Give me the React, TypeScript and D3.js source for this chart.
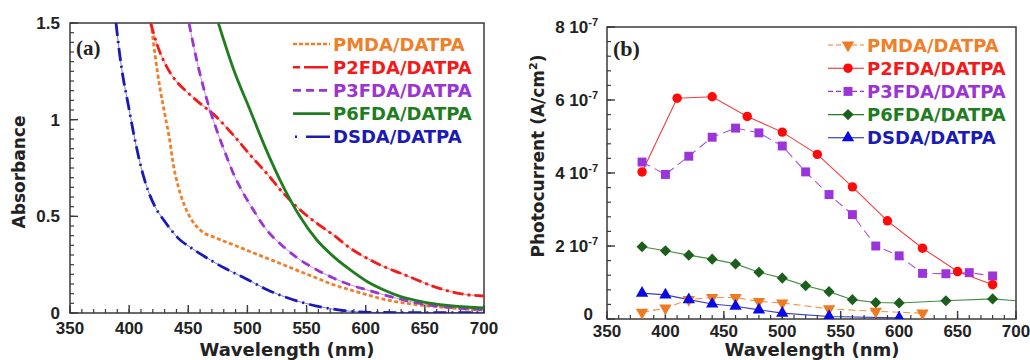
import React, { useRef, useEffect } from "react";
import * as d3 from "d3";

// (a) absorbance spectra, wavelength in nm
const pmdaWl = [418.5, 421.9, 426.1, 430.3, 434.5, 437, 441.6, 447.2, 452, 459.9, 474, 488, 502.2, 516.2, 530.3, 544.4, 558.5, 572.6, 586.7, 600.8, 614.9, 629, 643, 657.1, 671.2, 700];
const pmdaAbs = [1.5, 1.335, 1.162, 1.024, 0.886, 0.78, 0.653, 0.55, 0.49, 0.43, 0.387, 0.353, 0.318, 0.284, 0.25, 0.215, 0.181, 0.146, 0.12, 0.095, 0.072, 0.055, 0.043, 0.034, 0.026, 0.015];
const p2fdaWl = [418.2, 423.3, 431.7, 440.2, 448.6, 459.9, 471, 488, 502.2, 516.2, 530.3, 544.4, 558.5, 572.6, 586.7, 600.8, 614.9, 629, 643, 657.1, 671.2, 685.3, 700];
const p2fdaAbs = [1.5, 1.394, 1.274, 1.196, 1.145, 1.084, 1.03, 0.921, 0.818, 0.723, 0.62, 0.534, 0.465, 0.404, 0.336, 0.284, 0.241, 0.207, 0.172, 0.138, 0.112, 0.095, 0.088];
const p3fdaWl = [450.6, 457.1, 462.7, 468.3, 474, 482.4, 488, 496.5, 504.9, 516.2, 530.3, 544.4, 558.5, 572.6, 586.7, 600.8, 614.9, 629, 643, 657.1, 671.2, 700];
const p3fdaAbs = [1.5, 1.308, 1.17, 1.05, 0.947, 0.809, 0.723, 0.62, 0.534, 0.43, 0.344, 0.275, 0.224, 0.181, 0.146, 0.12, 0.095, 0.072, 0.052, 0.038, 0.029, 0.017];
const p6fdaWl = [475.4, 488, 502.2, 516.2, 530.3, 544.4, 558.5, 572.6, 586.7, 600.8, 614.9, 629, 643, 657.1, 671.2, 685.3, 700];
const p6fdaAbs = [1.5, 1.265, 1.05, 0.84, 0.654, 0.499, 0.379, 0.293, 0.224, 0.164, 0.12, 0.086, 0.064, 0.048, 0.038, 0.031, 0.026];
const dsdaWl = [388.9, 391.7, 395, 399.3, 403.5, 408.3, 412, 416.2, 421.9, 430.3, 441.6, 452.9, 464.1, 481, 497.9, 516.2, 530.3, 544.4, 558.5, 572.6, 586.7, 603.6, 650, 700];
const dsdaAbs = [1.5, 1.352, 1.214, 1.076, 0.938, 0.8, 0.71, 0.63, 0.55, 0.472, 0.386, 0.335, 0.291, 0.231, 0.18, 0.122, 0.086, 0.058, 0.036, 0.02, 0.009, 0.003, 0.002, 0.002];

// (b) photocurrent, in units of 1e-7 A/cm2
const pmdaPcWl = [380, 400, 420, 440, 460, 480, 500, 540, 580, 620];
const pmdaPc = [0.18, 0.3, 0.53, 0.59, 0.59, 0.48, 0.44, 0.28, 0.21, 0.16];
const p2fdaPcWl = [380, 410, 440, 470, 500, 530, 560, 590, 620, 650, 680];
const p2fdaPc = [4.03, 6.05, 6.09, 5.55, 5.12, 4.51, 3.62, 2.69, 1.94, 1.3, 0.94];
const p3fdaPcWl = [380, 400, 420, 440, 460, 480, 500, 520, 540, 560, 580, 600, 620, 640, 660, 680];
const p3fdaPc = [4.3, 3.96, 4.46, 4.98, 5.23, 5.1, 4.74, 4.03, 3.41, 2.86, 2.0, 1.73, 1.25, 1.24, 1.27, 1.18];
const p6fdaPcWl = [380, 400, 420, 440, 460, 480, 500, 520, 540, 560, 580, 600, 640, 680, 720];
const p6fdaPc = [1.98, 1.87, 1.75, 1.64, 1.51, 1.28, 1.12, 0.91, 0.75, 0.53, 0.45, 0.44, 0.5, 0.55, 0.45];
const dsdaPcWl = [380, 400, 420, 440, 460, 480, 500, 540, 600];
const dsdaPc = [0.71, 0.66, 0.53, 0.41, 0.35, 0.25, 0.16, 0.07, 0.03];

const seriesNames = ["PMDA/DATPA", "P2FDA/DATPA", "P3FDA/DATPA", "P6FDA/DATPA", "DSDA/DATPA"];
const seriesColors = ["#f07f2a", "#f21a1a", "#9b34d2", "#1f7d1f", "#1a1ab4"];
const markerColors = ["#f07a22", "#ff0a0a", "#9b34d9", "#1c5e1c", "#0a0ae6"];
const wlTicks = [350, 400, 450, 500, 550, 600, 650, 700];
const absTicks = [0, 0.5, 1, 1.5];
const absTickLabels = ["0", "0.5", "1", "1.5"];
const pcTicks = [0, 2, 4, 6, 8];
const pcTickLabels = ["0", "2 10", "4 10", "6 10", "8 10"];

const TICK_FONT = "'Liberation Sans', Arial, sans-serif";
const LABEL_FONT = "'DejaVu Sans', sans-serif";

function App() {
  const svgRef = useRef(null);

  useEffect(() => {
    const svg = d3.select(svgRef.current);
    svg.selectAll("*").remove();

    const frame = "#3a3a3a";

    function axes(g, x, y, xMinor, yMinor, xLabY) {
      const [x0, x1] = x.range();
      const [y0, y1] = y.range();
      // minor ticks, pointing inward
      yMinor.forEach(v => {
        g.append("line").attr("x1", x0).attr("x2", x0 + 4)
          .attr("y1", y(v)).attr("y2", y(v)).attr("stroke", frame).attr("stroke-width", 1.2);
      });
      xMinor.forEach(v => {
        g.append("line").attr("x1", x(v)).attr("x2", x(v))
          .attr("y1", y0).attr("y2", y0 - 4).attr("stroke", frame).attr("stroke-width", 1.2);
      });
      wlTicks.forEach(v => {
        g.append("line").attr("x1", x(v)).attr("x2", x(v))
          .attr("y1", y0).attr("y2", y0 - 8).attr("stroke", frame).attr("stroke-width", 1.4);
        g.append("text").attr("x", x(v)).attr("y", xLabY)
          .attr("text-anchor", "middle").attr("font-family", TICK_FONT)
          .attr("font-weight", "bold").attr("font-size", 17).attr("fill", "#222").text(v);
      });
      g.append("rect").attr("x", x0).attr("y", y1).attr("width", x1 - x0).attr("height", y0 - y1)
        .attr("fill", "none").attr("stroke", frame).attr("stroke-width", 1.5);
    }

    // ---------- panel (a)
    const xa = d3.scaleLinear().domain([350, 700]).range([70, 484]);
    const ya = d3.scaleLinear().domain([0, 1.5]).range([313, 23]);
    const ga = svg.append("g");
    ga.append("clipPath").attr("id", "clipA").append("rect")
      .attr("x", 70).attr("y", 23).attr("width", 414).attr("height", 290);

    axes(ga, xa, ya, d3.range(350, 701, 10), d3.range(0, 1.501, 0.05), 334);
    absTicks.forEach((v, i) => {
      ga.append("line").attr("x1", 70).attr("x2", 78).attr("y1", ya(v)).attr("y2", ya(v))
        .attr("stroke", frame).attr("stroke-width", 1.4);
      ga.append("text").attr("x", 60).attr("y", ya(v) + 6).attr("text-anchor", "end")
        .attr("font-family", TICK_FONT).attr("font-weight", "bold").attr("font-size", 17)
        .attr("fill", "#222").text(absTickLabels[i]);
    });

    const absSeries = [
      { wl: pmdaWl, v: pmdaAbs, dash: "4,2.5", thin: false },
      { wl: p2fdaWl, v: p2fdaAbs, dash: "11,4,3,4", thin: true },
      { wl: p3fdaWl, v: p3fdaAbs, dash: "9,6", thin: true },
      { wl: p6fdaWl, v: p6fdaAbs, dash: null, thin: false },
      { wl: dsdaWl, v: dsdaAbs, dash: "13,5,2,5", thin: true },
    ];
    const lineA = d3.line().x(d => xa(d[0])).y(d => ya(d[1])).curve(d3.curveMonotoneX);
    const plotA = ga.append("g").attr("clip-path", "url(#clipA)");
    absSeries.forEach((s, i) => {
      const pts = s.wl.map((w, j) => [w, s.v[j]]);
      if (s.thin) {
        plotA.append("path").attr("d", lineA(pts)).attr("fill", "none")
          .attr("stroke", seriesColors[i]).attr("stroke-width", 0.8).attr("opacity", 0.7);
      }
      plotA.append("path").attr("d", lineA(pts)).attr("fill", "none")
        .attr("stroke", seriesColors[i]).attr("stroke-width", 2.8)
        .attr("stroke-dasharray", s.dash);
    });

    ga.append("text").attr("x", 76).attr("y", 55).attr("font-family", "'Liberation Serif', serif")
      .attr("font-weight", "bold").attr("font-size", 21).attr("fill", "#222").text("(a)");

    seriesNames.forEach((n, i) => {
      const ly = 44 + i * 23.2;
      ga.append("line").attr("x1", i === 4 ? 295 : 293).attr("x2", 330).attr("y1", ly).attr("y2", ly)
        .attr("stroke", seriesColors[i]).attr("stroke-width", 2.6)
        .attr("stroke-dasharray", i === 0 ? "4,2" : i === 1 ? "7,4,24" : i === 2 ? "8,5" : i === 4 ? "2,9,30" : null);
      ga.append("text").attr("x", 333).attr("y", ly + 6.5).attr("font-family", LABEL_FONT)
        .attr("font-weight", "bold").attr("font-size", 18).attr("fill", seriesColors[i]).text(n);
    });

    ga.append("text").attr("x", 287).attr("y", 356).attr("text-anchor", "middle")
      .attr("font-family", LABEL_FONT).attr("font-weight", "bold").attr("font-size", 18)
      .attr("fill", "#222").text("Wavelength (nm)");
    ga.append("text").attr("transform", "translate(25,172) rotate(-90)").attr("text-anchor", "middle")
      .attr("font-family", LABEL_FONT).attr("font-weight", "bold").attr("font-size", 17)
      .attr("fill", "#222").text("Absorbance");

    // ---------- panel (b)
    const xb = d3.scaleLinear().domain([350, 700]).range([607, 1016]);
    const yb = d3.scaleLinear().domain([0, 8]).range([319, 27]);
    const gb = svg.append("g");
    gb.append("clipPath").attr("id", "clipB").append("rect")
      .attr("x", 607).attr("y", 27).attr("width", 409).attr("height", 292);

    axes(gb, xb, yb, d3.range(350, 701, 10), d3.range(0, 8.01, 0.4), 337);
    pcTicks.forEach((v, i) => {
      gb.append("line").attr("x1", 607).attr("x2", 615).attr("y1", yb(v)).attr("y2", yb(v))
        .attr("stroke", frame).attr("stroke-width", 1.4);
      const t = gb.append("text").attr("x", v === 0 ? 593 : 598).attr("y", v === 0 ? yb(v) + 1 : yb(v) + 6)
        .attr("text-anchor", "end")
        .attr("font-family", TICK_FONT).attr("font-weight", "bold").attr("font-size", 17)
        .attr("fill", "#222");
      t.append("tspan").text(pcTickLabels[i]);
      if (v !== 0) t.append("tspan").attr("dy", -7).attr("font-size", 11).text("-7");
    });

    const pcSeries = [
      { wl: pmdaPcWl, v: pmdaPc, dash: "7,4", sym: "tri-down" },
      { wl: p2fdaPcWl, v: p2fdaPc, dash: null, sym: "circle" },
      { wl: p3fdaPcWl, v: p3fdaPc, dash: "9,5", sym: "square" },
      { wl: p6fdaPcWl, v: p6fdaPc, dash: null, sym: "diamond" },
      { wl: dsdaPcWl, v: dsdaPc, dash: null, sym: "tri-up" },
    ];
    const symPath = (sym) => {
      if (sym === "circle") return d3.symbol(d3.symbolCircle, 70)();
      if (sym === "square") return d3.symbol(d3.symbolSquare, 80)();
      if (sym === "diamond") return d3.symbol(d3.symbolSquare, 62)();
      return d3.symbol(d3.symbolTriangle, 66)();
    };
    const symRot = { "tri-down": 180, diamond: 45, circle: 0, square: 0, "tri-up": 0 };

    const lineB = d3.line().x(d => xb(d[0])).y(d => yb(d[1]));
    const plotB = gb.append("g").attr("clip-path", "url(#clipB)");
    pcSeries.forEach((s, i) => {
      const pts = s.wl.map((w, j) => [w, s.v[j]]);
      plotB.append("path").attr("d", lineB(pts)).attr("fill", "none")
        .attr("stroke", seriesColors[i]).attr("stroke-width", 1.1)
        .attr("stroke-dasharray", s.dash).attr("opacity", 0.85);
    });
    // lower series under the upper ones
    [3, 0, 4, 2, 1].forEach(i => {
      const s = pcSeries[i];
      plotB.selectAll(null).data(s.wl.map((w, j) => [w, s.v[j]]))
        .join("path")
        .attr("d", symPath(s.sym))
        .attr("transform", d => `translate(${xb(d[0])},${yb(d[1])}) rotate(${symRot[s.sym]})`)
        .attr("fill", markerColors[i]);
    });

    gb.append("text").attr("x", 613).attr("y", 56).attr("font-family", "'Liberation Serif', serif")
      .attr("font-weight", "bold").attr("font-size", 22).attr("fill", "#222").text("(b)");

    seriesNames.forEach((n, i) => {
      const ly = 45 + i * 23.2;
      gb.append("line").attr("x1", 828).attr("x2", 864).attr("y1", ly).attr("y2", ly)
        .attr("stroke", seriesColors[i]).attr("stroke-width", 1.1)
        .attr("stroke-dasharray", pcSeries[i].dash ? "5,3" : null);
      gb.append("path").attr("d", symPath(pcSeries[i].sym))
        .attr("transform", `translate(848,${ly}) rotate(${symRot[pcSeries[i].sym]})`)
        .attr("fill", markerColors[i]);
      gb.append("text").attr("x", 867).attr("y", ly + 6.5).attr("font-family", LABEL_FONT)
        .attr("font-weight", "bold").attr("font-size", 18).attr("fill", seriesColors[i]).text(n);
    });

    gb.append("text").attr("x", 812).attr("y", 356).attr("text-anchor", "middle")
      .attr("font-family", LABEL_FONT).attr("font-weight", "bold").attr("font-size", 18)
      .attr("fill", "#222").text("Wavelength (nm)");
    const yt = gb.append("text").attr("transform", "translate(544,156) rotate(-90)").attr("text-anchor", "middle")
      .attr("font-family", LABEL_FONT).attr("font-weight", "bold").attr("font-size", 17)
      .attr("fill", "#222");
    yt.append("tspan").text("Photocurrent (A/cm");
    yt.append("tspan").attr("dy", -7).attr("font-size", 11).text("2");
    yt.append("tspan").attr("dy", 7).text(")");
  }, []);

  return (
    <div style={{ position: "absolute", left: 0, top: 0, background: "#fff" }}>
      <svg ref={svgRef} width={1030} height={360} />
    </div>
  );
}

export default App;
